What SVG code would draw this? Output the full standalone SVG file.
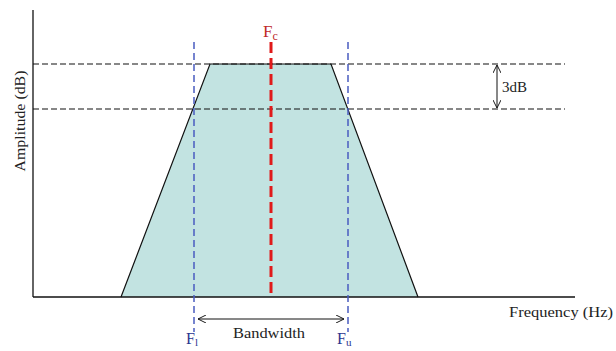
<svg xmlns="http://www.w3.org/2000/svg" width="616" height="351" viewBox="0 0 616 351">
<style>
text{font-family:"Liberation Serif","Times New Roman",serif;font-size:15px;fill:#222}
.ax{stroke:#111;stroke-width:1.3;fill:none}
.hd{stroke:#111;stroke-width:1.2;stroke-dasharray:6,3;fill:none}
.bl{stroke:#4a5cc0;stroke-width:1.5;stroke-dasharray:7,4;fill:none}
.rd{stroke:#e01a1a;stroke-width:3;stroke-dasharray:11,5;fill:none}
.ar{stroke:#111;stroke-width:1;fill:none}
.lb{fill:#2a3590;font-size:16px}
.lr{fill:#c02828;font-size:17px}
</style>
<defs>
<marker id="ah" viewBox="0 0 10 10" refX="10" refY="5" markerWidth="8" markerHeight="8" markerUnits="userSpaceOnUse" orient="auto-start-reverse">
<path d="M0,0 L10,5 L0,10" fill="none" stroke="#111" stroke-width="1.2"/>
</marker>
</defs>
<g id="band">
<polygon points="121,297 210,64 331,64 418,297" fill="#c2e3e1" stroke="none"/>
<polyline points="121,297 210,64 331,64 418,297" fill="none" stroke="#111" stroke-width="1.2"/>
</g>
<g id="axes">
<line class="ax" x1="33" y1="10" x2="33" y2="297"/>
<line class="ax" x1="33" y1="297" x2="575" y2="297"/>
</g>
<g id="connectors">
<line class="hd" x1="33" y1="64" x2="565" y2="64"/>
<line class="hd" x1="33" y1="109" x2="565" y2="109"/>
<line class="bl" x1="194" y1="42" x2="194" y2="332"/>
<line class="bl" x1="348" y1="42" x2="348" y2="332"/>
<line class="rd" x1="271" y1="42" x2="271" y2="297"/>
<line class="ar" x1="497" y1="65" x2="497" y2="108" marker-start="url(#ah)" marker-end="url(#ah)"/>
<line class="ar" x1="198" y1="319" x2="344" y2="319" marker-start="url(#ah)" marker-end="url(#ah)"/>
</g>
<g id="labels">
<text x="20" y="121" transform="rotate(-90 20 121)" text-anchor="middle" dy="5" textLength="101" lengthAdjust="spacingAndGlyphs">Amplitude (dB)</text>
<text x="509" y="317" textLength="104" lengthAdjust="spacingAndGlyphs">Frequency (Hz)</text>
<text x="233" y="338" textLength="72" lengthAdjust="spacingAndGlyphs">Bandwidth</text>
<text x="502" y="92">3dB</text>
<text class="lr" x="263" y="37">F<tspan font-size="12" dy="3">c</tspan></text>
<text class="lb" x="186" y="344">F<tspan font-size="11" dy="2">l</tspan></text>
<text class="lb" x="337" y="344">F<tspan font-size="11" dy="2">u</tspan></text>
</g>
</svg>
